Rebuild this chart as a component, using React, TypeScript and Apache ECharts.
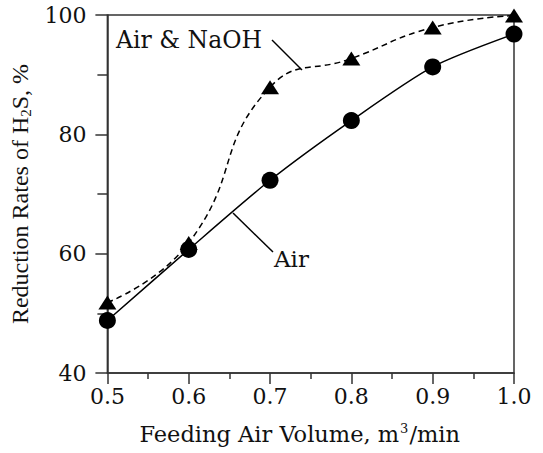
import React, { useEffect, useRef } from "react";
import * as echarts from "echarts";

const airVolume = [0.5, 0.6, 0.7, 0.8, 0.9, 1.0];
const airOnly = [48.8, 60.7, 72.3, 82.3, 91.3, 96.8];
const airNaOH = [51.8, 61.8, 87.9, 92.7, 97.9, 99.9];
const yTicks = { min: 40, max: 100, interval: 20 };
const xTicks = { min: 0.5, max: 1.0, interval: 0.1 };

const FONT = "DejaVu Serif";

export default function App() {
  const ref = useRef<HTMLDivElement>(null);
  useEffect(() => {
    if (!ref.current) return;
    const chart = echarts.init(ref.current, undefined, { renderer: "svg" });
    const axisColor = "#333";
    chart.setOption({
      animation: false,
      backgroundColor: "#fff",
      textStyle: { fontFamily: FONT },
      grid: {
        left: 107,
        right: 29,
        top: 15,
        bottom: 80,
        show: true,
        borderColor: axisColor,
        borderWidth: 1.5,
      },
      xAxis: {
        type: "value",
        min: xTicks.min,
        max: xTicks.max,
        interval: xTicks.interval,
        name: "Feeding Air Volume, m{sup|3}/min",
        nameLocation: "middle",
        nameGap: 49,
        nameTextStyle: {
          fontFamily: FONT,
          fontSize: 22.5,
          color: "#111",
          padding: [0, 22, 0, 0],
          rich: {
            sup: { fontFamily: FONT, fontSize: 13, color: "#111", padding: [0, 1, 10, 1] },
          },
        },
        axisLine: { show: true, lineStyle: { color: axisColor, width: 1.5 } },
        axisTick: { show: true, inside: false, length: 11, lineStyle: { color: axisColor, width: 1.5 } },
        minorTick: { show: true, splitNumber: 2, length: 6, lineStyle: { color: axisColor, width: 1.5 } },
        splitLine: { show: false },
        axisLabel: {
          fontFamily: FONT,
          fontSize: 22,
          color: "#111",
          margin: 12,
          formatter: (v: number) => v.toFixed(1),
        },
      },
      yAxis: {
        type: "value",
        min: yTicks.min,
        max: yTicks.max,
        interval: yTicks.interval,
        name: "Reduction Rates of H{sub|2}S, %",
        nameLocation: "middle",
        nameGap: 68,
        nameRotate: 90,
        nameTextStyle: {
          fontFamily: "Liberation Serif",
          fontSize: 24,
          color: "#111",
          rich: {
            sub: { fontFamily: "Liberation Serif", fontSize: 15, color: "#111", padding: [12, 0, 0, 0] },
          },
        },
        axisLine: { show: true, lineStyle: { color: axisColor, width: 1.5 } },
        axisTick: { show: true, inside: false, length: 12, lineStyle: { color: axisColor, width: 1.5 } },
        minorTick: { show: true, splitNumber: 2, length: 10, lineStyle: { color: axisColor, width: 1.5 } },
        splitLine: { show: false },
        axisLabel: { fontFamily: FONT, fontSize: 22, color: "#111", margin: 21 },
      },
      series: [
        {
          name: "Air",
          type: "line",
          data: airVolume.map((x, i) => [x, airOnly[i]]),
          smooth: 0.25,
          symbol: "circle",
          symbolSize: 17,
          itemStyle: { color: "#000" },
          lineStyle: { color: "#000", width: 1.5 },
          z: 3,
        },
        {
          name: "Air & NaOH",
          type: "line",
          data: airVolume.map((x, i) => [x, airNaOH[i]]),
          smooth: 0.5,
          symbol: "triangle",
          symbolSize: [18, 14],
          itemStyle: { color: "#000" },
          lineStyle: { color: "#000", width: 1.5, type: [6, 4] },
          z: 4,
        },
      ],
      graphic: [
        {
          type: "text",
          left: 116,
          top: 28,
          style: { text: "Air & NaOH", fontFamily: FONT, fontSize: 23.5, fill: "#111" },
        },
        {
          type: "line",
          shape: { x1: 272, y1: 40, x2: 302, y2: 70 },
          style: { stroke: "#000", lineWidth: 1.5 },
        },
        {
          type: "text",
          left: 274,
          top: 247,
          style: { text: "Air", fontFamily: FONT, fontSize: 23, fill: "#111" },
        },
        {
          type: "line",
          shape: { x1: 233, y1: 213, x2: 273, y2: 252 },
          style: { stroke: "#000", lineWidth: 1.5 },
        },
      ],
    });
    return () => chart.dispose();
  }, []);
  return <div ref={ref} style={{ width: 543, height: 453, position: "absolute", left: 0, top: 0 }} />;
}
